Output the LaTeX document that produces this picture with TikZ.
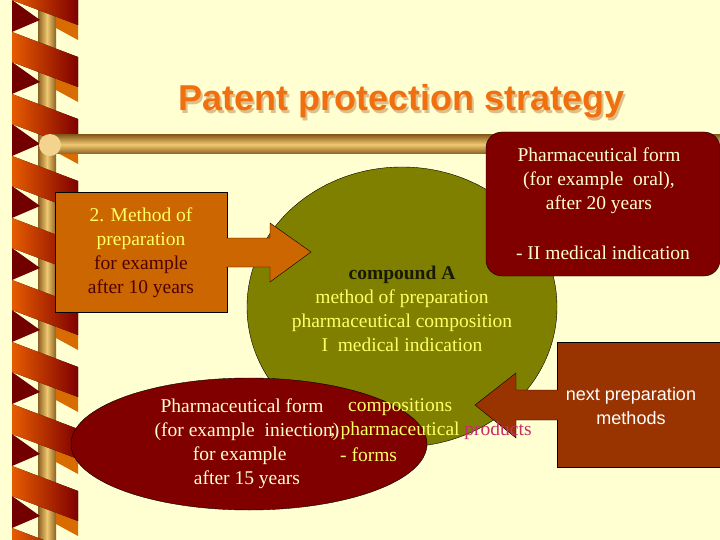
\documentclass[tikz,border=0pt]{standalone}
\usepackage{fontspec}
\usetikzlibrary{shapes.geometric}
\setmainfont{Liberation Serif}
\newfontfamily\arialf{Liberation Sans}
\begin{document}
\begin{tikzpicture}[x=1pt,y=-1pt,
  txt/.style={font=\fontsize{19.5}{24}\selectfont,align=center,inner sep=0pt},
  strip/.style={left color=orange!80!red!90!black,right color=red!50!black,draw=none}]
\definecolor{bg}{HTML}{FFFFD2}
\definecolor{olivec}{HTML}{808000}
\definecolor{maroon}{HTML}{800000}
\definecolor{rust}{HTML}{993300}
\definecolor{boxor}{HTML}{CC6600}
\definecolor{yel}{HTML}{FFFF66}
\definecolor{cream}{HTML}{FFFFCC}
\definecolor{ttl}{HTML}{F07010}
\definecolor{gold}{HTML}{F0C870}
\definecolor{goldd}{HTML}{8A6020}
\fill[bg] (0,0) rectangle (720,540);
\useasboundingbox (0,0) rectangle (720,540);
% pole
\shade[left color=goldd,right color=goldd,middle color=gold] (38,0) rectangle (56,540);
\foreach \y in {-30,32,...,540}{
  \fill[red!45!black] (12,\y+30) -- (40,\y+50) -- (12,\y+62) -- cycle;
  \fill[orange!85!black] (56,\y+42) -- (78,\y+55) -- (78,\y+70) -- (56,\y+58)-- cycle;
  \fill[strip] (12,\y) -- (78,\y+25) -- (78,\y+55) -- (12,\y+30) -- cycle;
}
% horizontal bar
\shade[top color=goldd,bottom color=goldd,middle color=gold] (50,135) rectangle (720,154);
\fill[gold!80!white] (50,145) circle (11);
% title
\node (titleshadow)[font=\arialf\bfseries\fontsize{36}{40}\selectfont,text=brown!50!bg] at (404,104) {Patent protection strategy};
\node (title)[font=\arialf\bfseries\fontsize{36}{40}\selectfont,text=ttl] at (402,101) {Patent protection strategy};
% circle
\node (comp)[ellipse,draw=black,fill=olivec,minimum width=310,minimum height=280,inner sep=0] at (402,307) {};
% left box and arrow
\node (meth)[draw=black,fill=boxor,minimum width=172,minimum height=120,inner sep=0] at (141,252) {};
\fill[boxor,draw=black] (226,238) -- (270,238) -- (270,223) -- (311,252) -- (270,282) -- (270,267) -- (226,267);
\node[txt] at (141,253) {\textcolor{yel}{2. Method of}\\\textcolor{yel}{preparation}\\\textcolor{red!30!black}{for example}\\\textcolor{red!30!black}{after 10 years}};
% top right
\node (oral)[draw=black,fill=maroon,rounded corners=16,minimum width=234,minimum height=144,inner sep=0] at (603,204) {};
\node[txt,text=cream] at (599,181) {Pharmaceutical form\\(for example\ \ oral),\\after 20 years};
\node[txt,text=cream] at (603,253) {- II medical indication};
% circle text
\node[txt,text=yel] at (402,309) {\textcolor{black!80!olivec}{\bfseries compound A}\\method of preparation\\pharmaceutical composition\\I\ \ medical indication};
% bottom right box and arrow
\node (next)[draw=black,fill=rust,minimum width=164,minimum height=125,inner sep=0] at (639,405) {};
\fill[rust,draw=black] (558,390) -- (516,390) -- (516,373) -- (475,405) -- (516,438) -- (516,420) -- (558,420);
\node[font=\arialf\fontsize{18}{24}\selectfont,align=center,text=white,inner sep=0] at (631,406) {next preparation\\methods};
% bottom ellipse
\node (inj)[ellipse,draw=black,fill=maroon,minimum width=356,minimum height=132,inner sep=0] at (249,444) {};
\node[txt,text=cream] at (247,444) {Pharmaceutical form\ \ \ \\(for example\ \ iniection)\\for example\ \ \ \ \ \\after 15 years};
\node[txt,text=yel,anchor=west] at (348,407) {compositions};
\node[txt,text=yel,anchor=west] at (330,431) {; pharmaceutical \textcolor{magenta!70!red!80!black}{products}};
\node[txt,text=yel,anchor=west] at (340,455) {- forms};
\end{tikzpicture}
\end{document}
